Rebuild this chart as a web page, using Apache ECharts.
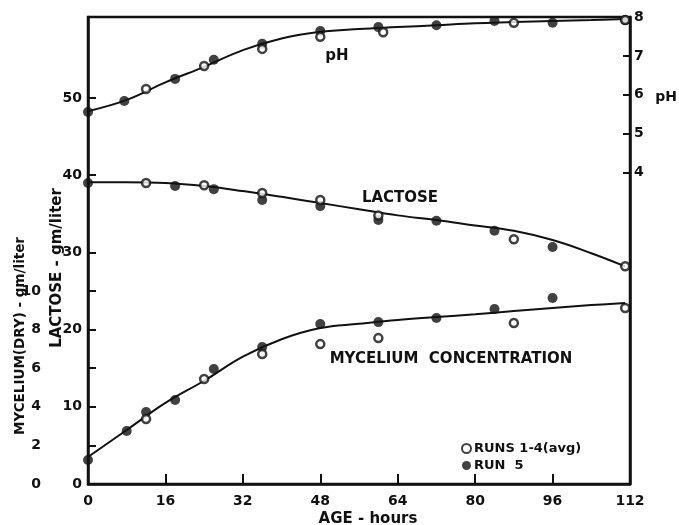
<!DOCTYPE html>
<html>
<head>
<meta charset="utf-8">
<script src="https://cdn.jsdelivr.net/npm/echarts@6/dist/echarts.min.js"></script>
<style>
  html, body { margin: 0; padding: 0; background: #fff; }
  #chart { width: 679px; height: 525px; }
</style>
</head>
<body>
<div id="chart"></div>
<script>
// Age axis (hours)
const ageTicks = [0, 16, 32, 48, 64, 80, 96, 112];

// Smoothed trend curves, sampled along the age axis
const curveHours    = [0, 8, 16, 24, 32, 40, 48, 56, 64, 72, 80, 88, 96, 104, 111];
const phCurve       = [5.58, 5.87, 6.32, 6.72, 7.15, 7.45, 7.62, 7.69, 7.74, 7.79, 7.84, 7.87, 7.90, 7.92, 7.95];
const lactoseCurve  = [39.1, 39.1, 39.0, 38.6, 37.95, 37.2, 36.4, 35.6, 34.8, 34.2, 33.5, 32.8, 31.6, 29.9, 28.2];
const myceliumCurve = [1.4, 2.8, 4.2, 5.35, 6.6, 7.5, 8.08, 8.3, 8.5, 8.65, 8.8, 8.96, 9.12, 9.27, 9.38];

// Runs 1-4 (average) — open circles
const phHoursAvg       = [12, 24, 36, 48, 61, 88, 111];
const phAvg            = [6.15, 6.74, 7.18, 7.49, 7.61, 7.85, 7.92];
const lactoseHoursAvg  = [12, 24, 36, 48, 60, 88, 111];
const lactoseAvg       = [39.0, 38.7, 37.7, 36.8, 34.8, 31.7, 28.2];
const myceliumHoursAvg = [12, 24, 36, 48, 60, 88, 111];
const myceliumAvg      = [3.37, 5.44, 6.74, 7.25, 7.56, 8.34, 9.12];

// Run 5 — filled circles
const phHours5       = [0, 7.5, 18, 26, 36, 48, 60, 72, 84, 96, 111];
const ph5            = [5.56, 5.84, 6.41, 6.90, 7.31, 7.64, 7.74, 7.79, 7.90, 7.85, 7.92];
const lactoseHours5  = [0, 18, 26, 36, 48, 60, 72, 84, 96];
const lactose5       = [39.0, 38.6, 38.2, 36.8, 36.0, 34.2, 34.1, 32.8, 30.7];
const myceliumHours5 = [0, 8, 12, 18, 26, 36, 48, 60, 72, 84, 96];
const mycelium5      = [1.24, 2.75, 3.73, 4.35, 5.96, 7.1, 8.29, 8.39, 8.6, 9.07, 9.64];

// Tick labels
const lactoseLabels  = [0, 10, 20, 30, 40, 50];
const lactoseTicks   = [0, 5, 10, 15, 20, 25, 30, 40, 50];
const myceliumLabels = [0, 2, 4, 6, 8, 10];
const phLabels       = [4, 5, 6, 7, 8];
const phTicks        = [4, 5, 6, 7];

const zip = (xs, ys) => xs.map((x, i) => [x, ys[i]]);

const FONT = '"DejaVu Sans", "Liberation Sans", sans-serif';
const INK = '#111';
const labelStyle = { color: INK, fontFamily: FONT, fontWeight: 'bold', fontSize: 14 };

const openStyle = { color: '#fff', borderColor: INK, borderWidth: 2.5 };
const fillStyle = { color: INK };

function curve(data, yAxisIndex) {
  return {
    type: 'line', yAxisIndex, data, smooth: 0.4, showSymbol: false, silent: true,
    lineStyle: { color: INK, width: 2 }, z: 2
  };
}
function dots(name, data, yAxisIndex, open) {
  return {
    type: 'scatter', name, yAxisIndex, data,
    symbol: 'circle', symbolSize: open ? 8 : 10,
    itemStyle: open ? openStyle : fillStyle, z: open ? 4 : 3
  };
}
function text(x, y, str, size, rotation) {
  return {
    type: 'text', x, y, rotation: rotation || 0,
    style: { text: str, font: 'bold ' + size + 'px ' + FONT, fill: INK, textAlign: 'center', textVerticalAlign: 'middle' }
  };
}

const chart = echarts.init(document.getElementById('chart'), null, { renderer: 'canvas' });

chart.setOption({
  animation: false,
  backgroundColor: '#fff',
  grid: { left: 88, right: 49, top: 17, bottom: 41, show: true, borderColor: INK, borderWidth: 2.5 },
  xAxis: {
    type: 'value', min: 0, max: 112,
    axisLine: { lineStyle: { color: INK, width: 2.5 } },
    axisTick: { inside: true, length: 10, lineStyle: { color: INK, width: 2 }, customValues: ageTicks.slice(1, -1) },
    axisLabel: Object.assign({ margin: 10, customValues: ageTicks }, labelStyle),
    splitLine: { show: false }
  },
  yAxis: [
    {
      type: 'value', position: 'left', min: 0, max: 60.5,
      axisLine: { show: true, lineStyle: { color: INK, width: 2.5 } },
      axisTick: { show: true, inside: true, length: 8, lineStyle: { color: INK, width: 2 }, customValues: lactoseTicks },
      axisLabel: Object.assign({ margin: 6, customValues: lactoseLabels }, labelStyle),
      splitLine: { show: false }
    },
    {
      type: 'value', position: 'left', offset: 47, min: 0, max: 24.2,
      axisLine: { show: false }, axisTick: { show: false },
      axisLabel: Object.assign({ margin: 0, customValues: myceliumLabels }, labelStyle),
      splitLine: { show: false }
    },
    {
      type: 'value', position: 'right', min: -4, max: 8,
      axisLine: { show: true, lineStyle: { color: INK, width: 2.5 } },
      axisTick: { show: true, inside: true, length: 7, lineStyle: { color: INK, width: 2 }, customValues: phTicks },
      axisLabel: Object.assign({ margin: 4, customValues: phLabels }, labelStyle),
      splitLine: { show: false }
    }
  ],
  legend: {
    orient: 'vertical', left: 456, top: 437, itemGap: 4,
    itemWidth: 9, itemHeight: 9, icon: 'circle',
    data: ['RUNS 1-4(avg)', 'RUN  5'],
    textStyle: { color: INK, fontFamily: FONT, fontWeight: 'bold', fontSize: 13, padding: [0, 0, 0, -2] }
  },
  graphic: [
    text(337, 56, 'pH', 15),
    text(400, 198, 'LACTOSE', 15),
    text(451, 359, 'MYCELIUM  CONCENTRATION', 15),
    text(666, 97, 'pH', 14),
    text(368, 519, 'AGE - hours', 15),
    text(20, 336, 'MYCELIUM(DRY) - gm/liter', 13.5, Math.PI / 2),
    text(57, 268, 'LACTOSE - gm/liter', 15, Math.PI / 2)
  ],
  series: [
    curve(zip(curveHours, phCurve), 2),
    curve(zip(curveHours, lactoseCurve), 0),
    curve(zip(curveHours, myceliumCurve), 1),
    dots('RUN  5', zip(phHours5, ph5), 2, false),
    dots('RUN  5', zip(lactoseHours5, lactose5), 0, false),
    dots('RUN  5', zip(myceliumHours5, mycelium5), 1, false),
    dots('RUNS 1-4(avg)', zip(phHoursAvg, phAvg), 2, true),
    dots('RUNS 1-4(avg)', zip(lactoseHoursAvg, lactoseAvg), 0, true),
    dots('RUNS 1-4(avg)', zip(myceliumHoursAvg, myceliumAvg), 1, true)
  ]
});
</script>
</body>
</html>
